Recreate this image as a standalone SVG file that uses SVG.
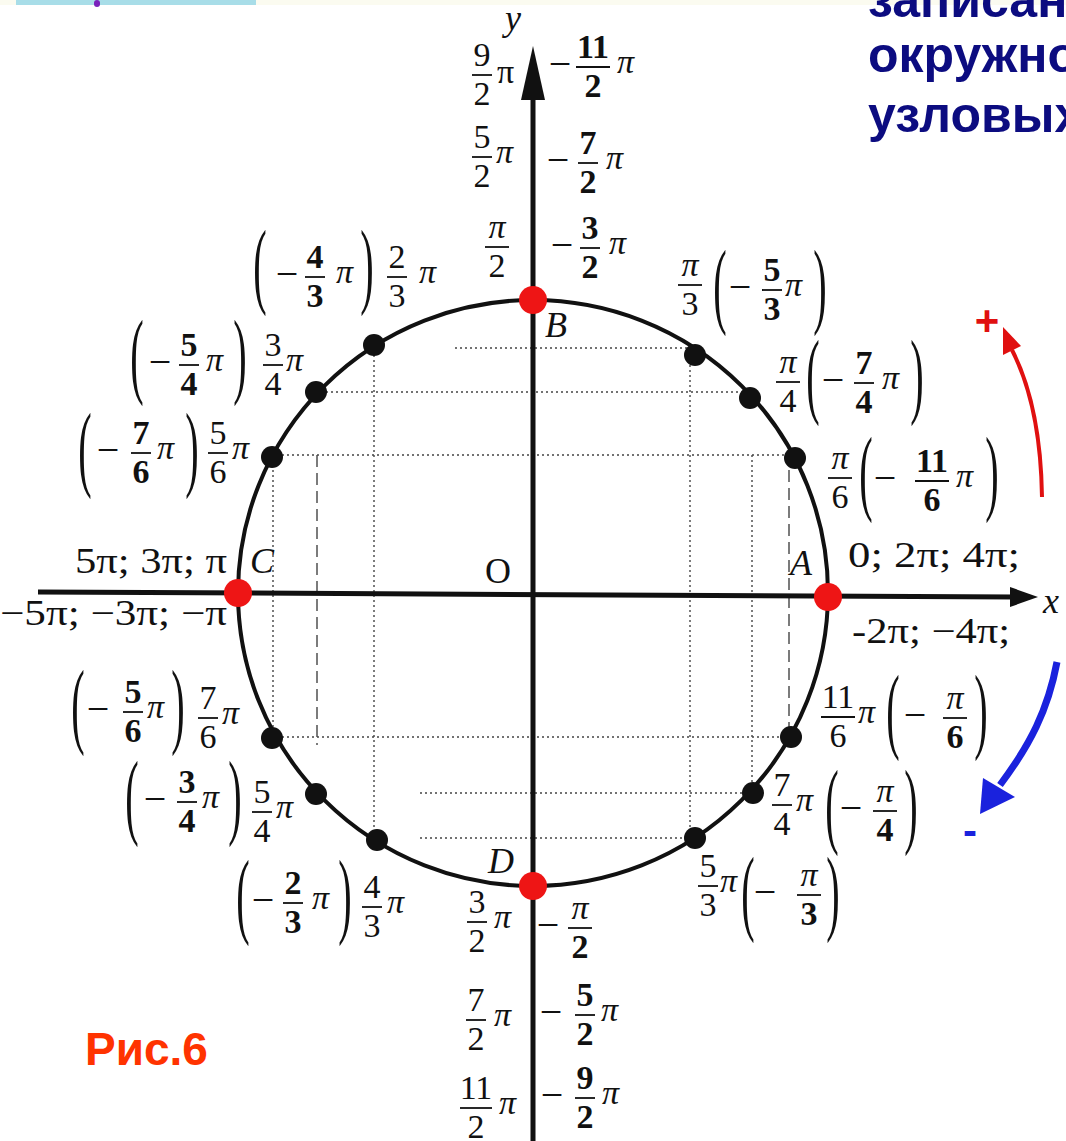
<svg xmlns="http://www.w3.org/2000/svg" width="1066" height="1141" viewBox="0 0 1066 1141">
<style>
.t{font-family:"Liberation Serif","Times New Roman",serif;font-size:34px;fill:#111}
.c{text-anchor:middle}
.b{font-weight:bold}
.i{font-style:italic}
.m{font-size:40px}
.bar{stroke:#111;stroke-width:1.8}
.par{font-family:"Liberation Serif","Times New Roman",serif;font-size:96px;fill:#111;text-anchor:middle}
.ax{font-family:"Liberation Serif","Times New Roman",serif;font-size:36px;fill:#111}
.grid{stroke:#444;stroke-width:1.4;stroke-dasharray:2 3;fill:none}
.dot{fill:#111}
.rdot{fill:#ee1515}
.title{font-family:"Liberation Sans",Arial,sans-serif;font-weight:bold;font-size:50px;fill:#0c0c80}
</style>
<rect width="1066" height="1141" fill="#fff"/>
<rect x="0" y="0" width="1066" height="5" fill="#fbfbf0"/>
<rect x="16" y="0" width="240" height="5" fill="#a8dde8"/>
<rect x="94" y="0" width="6" height="7" rx="3" fill="#7a22bb"/>

<g id="title">
<text class="title" x="868" y="17">записан</text>
<text class="title" x="868" y="72">окружно</text>
<text class="title" x="868" y="132">узловых</text>
</g>

<g id="grid">
<line class="grid" x1="455" y1="348" x2="690" y2="348"/>
<line class="grid" x1="316" y1="392" x2="750" y2="392"/>
<line class="grid" x1="272" y1="455" x2="795" y2="455"/>
<line class="grid" x1="272" y1="737" x2="791" y2="737"/>
<line class="grid" x1="420" y1="793" x2="753" y2="793"/>
<line class="grid" x1="420" y1="838" x2="695" y2="838"/>
<line class="grid" x1="273" y1="455" x2="273" y2="738"/>
<line class="grid" x1="317" y1="455" x2="317" y2="745" style="stroke-dasharray:12 6"/>
<line class="grid" x1="374" y1="345" x2="374" y2="840"/>
<line class="grid" x1="690" y1="355" x2="690" y2="838"/>
<line class="grid" x1="752" y1="455" x2="752" y2="793"/>
<line class="grid" x1="789" y1="470" x2="789" y2="735" style="stroke-dasharray:12 6"/>
</g>

<g id="circle">
<ellipse cx="533" cy="593" rx="295" ry="293" fill="none" stroke="#111" stroke-width="4"/>
</g>

<g id="connectors">
<line x1="38" y1="592" x2="1015" y2="597" stroke="#111" stroke-width="5"/>
<polygon points="1038,597 1010,587 1010,607" fill="#111"/>
<line x1="533" y1="1141" x2="533" y2="90" stroke="#111" stroke-width="5"/>
<polygon points="533,46 521,100 545,100" fill="#111"/>
<path d="M1042,497 C1041,430 1030,385 1012,350" fill="none" stroke="#e01010" stroke-width="4"/>
<polygon points="1003,327 1021,346 1003,355" fill="#e01010"/>
<path d="M1057,662 C1048,710 1030,745 1000,785" fill="none" stroke="#1a22dd" stroke-width="7"/>
<polygon points="980,814 983,778 1015,797" fill="#1a22dd"/>
</g>

<g id="axis-labels">
<text class="ax i" x="505" y="30">y</text>
<text class="ax i" x="1043" y="613">x</text>
<text class="ax" x="498" y="583" text-anchor="middle">O</text>
<text class="ax" x="75" y="573" textLength="152" lengthAdjust="spacingAndGlyphs">5π; 3π; π</text>
<text class="ax" x="0" y="625" textLength="227" lengthAdjust="spacingAndGlyphs">−5π; −3π; −π</text>
<text class="ax" x="848" y="567" textLength="172" lengthAdjust="spacingAndGlyphs">0; 2π; 4π;</text>
<text class="ax" x="852" y="643" textLength="158" lengthAdjust="spacingAndGlyphs">-2π; −4π;</text>
<text x="987" y="335" text-anchor="middle" style="font-family:'Liberation Sans',Arial,sans-serif;font-weight:bold;font-size:42px;fill:#e01010">+</text>
<text x="970" y="845" text-anchor="middle" style="font-family:'Liberation Sans',Arial,sans-serif;font-weight:bold;font-size:42px;fill:#1a22dd">-</text>
<text x="85" y="1065" style="font-family:'Liberation Sans',Arial,sans-serif;font-weight:bold;font-size:46px;fill:#ff3300">Рис.6</text>
</g>

<g id="node-A">
<circle class="rdot" cx="828" cy="597" r="14"/>
<text class="ax i" x="790" y="575">A</text>
</g>
<g id="node-B">
<circle class="rdot" cx="533" cy="300" r="14"/>
<text class="ax i" x="545" y="337">B</text>
<text class="t c" x="482" y="66">9</text><line class="bar" x1="472" y1="75" x2="492" y2="75"/><text class="t c" x="482" y="105">2</text>
<text class="t" x="497" y="83">π</text>
<text class="t c" x="482" y="148">5</text><line class="bar" x1="472" y1="157" x2="492" y2="157"/><text class="t c" x="482" y="187">2</text>
<text class="t i" x="496" y="163">π</text>
<text class="t c i" x="497" y="238">π</text><line class="bar" x1="485" y1="247" x2="509" y2="247"/><text class="t c" x="497" y="277">2</text>
<text class="t c m" x="560" y="77">−</text>
<text class="t c b" x="593" y="58">11</text><line class="bar" x1="576" y1="67" x2="610" y2="67"/><text class="t c b" x="593" y="97">2</text>
<text class="t i" x="617" y="73">π</text>
<text class="t c m" x="558" y="173">−</text>
<text class="t c b" x="588" y="154">7</text><line class="bar" x1="578" y1="163" x2="598" y2="163"/><text class="t c b" x="588" y="193">2</text>
<text class="t i" x="606" y="169">π</text>
<text class="t c m" x="562" y="258">−</text>
<text class="t c b" x="590" y="239">3</text><line class="bar" x1="580" y1="248" x2="600" y2="248"/><text class="t c b" x="590" y="278">2</text>
<text class="t i" x="609" y="254">π</text>
</g>
<g id="node-C">
<circle class="rdot" cx="238" cy="593" r="14"/>
<text class="ax i" x="250" y="573">C</text>
</g>
<g id="node-D">
<circle class="rdot" cx="533" cy="886" r="14"/>
<text class="ax i" x="488" y="873">D</text>
<text class="t c" x="477" y="913">3</text><line class="bar" x1="467" y1="922" x2="487" y2="922"/><text class="t c" x="477" y="952">2</text>
<text class="t i" x="494" y="928">π</text>
<text class="t c" x="476" y="1011">7</text><line class="bar" x1="466" y1="1020" x2="486" y2="1020"/><text class="t c" x="476" y="1050">2</text>
<text class="t i" x="494" y="1026">π</text>
<text class="t c" x="476" y="1099">11</text><line class="bar" x1="460" y1="1108" x2="492" y2="1108"/><text class="t c" x="476" y="1138">2</text>
<text class="t i" x="499" y="1114">π</text>
<text class="t c m" x="548" y="938">−</text>
<text class="t c i" x="580" y="919">π</text><line class="bar" x1="568" y1="928" x2="592" y2="928"/><text class="t c b" x="580" y="958">2</text>
<text class="t c m" x="551" y="1025">−</text>
<text class="t c b" x="585" y="1006">5</text><line class="bar" x1="575" y1="1015" x2="595" y2="1015"/><text class="t c b" x="585" y="1045">2</text>
<text class="t i" x="601" y="1021">π</text>
<text class="t c m" x="552" y="1108">−</text>
<text class="t c b" x="585" y="1089">9</text><line class="bar" x1="575" y1="1098" x2="595" y2="1098"/><text class="t c b" x="585" y="1128">2</text>
<text class="t i" x="602" y="1104">π</text>
</g>

<g id="node-2pi3">
<circle class="dot" cx="374" cy="345" r="11"/>
<text class="par" transform="translate(260,296) scale(0.42,1)">(</text>
<text class="t c m" x="287" y="287">−</text>
<text class="t c b" x="315" y="268">4</text><line class="bar" x1="305" y1="277" x2="325" y2="277"/><text class="t c b" x="315" y="307">3</text>
<text class="t i" x="336" y="283">π</text>
<text class="par" transform="translate(367,296) scale(0.42,1)">)</text>
<text class="t c" x="397" y="268">2</text><line class="bar" x1="387" y1="277" x2="407" y2="277"/><text class="t c" x="397" y="307">3</text>
<text class="t i" x="419" y="283">π</text>
</g>
<g id="node-3pi4">
<circle class="dot" cx="316" cy="392" r="11"/>
<text class="par" transform="translate(137,386) scale(0.42,1)">(</text>
<text class="t c m" x="160" y="375">−</text>
<text class="t c b" x="189" y="356">5</text><line class="bar" x1="179" y1="365" x2="199" y2="365"/><text class="t c b" x="189" y="395">4</text>
<text class="t i" x="206" y="371">π</text>
<text class="par" transform="translate(240,386) scale(0.42,1)">)</text>
<text class="t c" x="273" y="356">3</text><line class="bar" x1="263" y1="365" x2="283" y2="365"/><text class="t c" x="273" y="395">4</text>
<text class="t i" x="286" y="371">π</text>
</g>
<g id="node-5pi6">
<circle class="dot" cx="272" cy="457" r="11"/>
<text class="par" transform="translate(85,479) scale(0.42,1)">(</text>
<text class="t c m" x="108" y="463">−</text>
<text class="t c b" x="141" y="444">7</text><line class="bar" x1="131" y1="453" x2="151" y2="453"/><text class="t c b" x="141" y="483">6</text>
<text class="t i" x="157" y="459">π</text>
<text class="par" transform="translate(192,479) scale(0.42,1)">)</text>
<text class="t c" x="218" y="444">5</text><line class="bar" x1="208" y1="453" x2="228" y2="453"/><text class="t c" x="218" y="483">6</text>
<text class="t i" x="232" y="459">π</text>
</g>
<g id="node-7pi6">
<circle class="dot" cx="272" cy="738" r="11"/>
<text class="par" transform="translate(78,736) scale(0.42,1)">(</text>
<text class="t c m" x="98" y="722">−</text>
<text class="t c b" x="133" y="703">5</text><line class="bar" x1="123" y1="712" x2="143" y2="712"/><text class="t c b" x="133" y="742">6</text>
<text class="t i" x="147" y="718">π</text>
<text class="par" transform="translate(178,736) scale(0.42,1)">)</text>
<text class="t c" x="208" y="709">7</text><line class="bar" x1="198" y1="718" x2="218" y2="718"/><text class="t c" x="208" y="748">6</text>
<text class="t i" x="222" y="724">π</text>
</g>
<g id="node-5pi4">
<circle class="dot" cx="316" cy="794" r="11"/>
<text class="par" transform="translate(132,827) scale(0.42,1)">(</text>
<text class="t c m" x="155" y="812">−</text>
<text class="t c b" x="187" y="793">3</text><line class="bar" x1="177" y1="802" x2="197" y2="802"/><text class="t c b" x="187" y="832">4</text>
<text class="t i" x="202" y="808">π</text>
<text class="par" transform="translate(235,827) scale(0.42,1)">)</text>
<text class="t c" x="262" y="803">5</text><line class="bar" x1="252" y1="812" x2="272" y2="812"/><text class="t c" x="262" y="842">4</text>
<text class="t i" x="276" y="818">π</text>
</g>
<g id="node-4pi3">
<circle class="dot" cx="377" cy="840" r="11"/>
<text class="par" transform="translate(243,926) scale(0.42,1)">(</text>
<text class="t c m" x="263" y="913">−</text>
<text class="t c b" x="293" y="894">2</text><line class="bar" x1="283" y1="903" x2="303" y2="903"/><text class="t c b" x="293" y="933">3</text>
<text class="t i" x="312" y="909">π</text>
<text class="par" transform="translate(345,926) scale(0.42,1)">)</text>
<text class="t c" x="372" y="898">4</text><line class="bar" x1="362" y1="907" x2="382" y2="907"/><text class="t c" x="372" y="937">3</text>
<text class="t i" x="387" y="913">π</text>
</g>

<g id="node-pi3">
<circle class="dot" cx="695" cy="355" r="11"/>
<text class="t c i" x="690" y="276">π</text><line class="bar" x1="678" y1="285" x2="702" y2="285"/><text class="t c" x="690" y="315">3</text>
<text class="par" transform="translate(720,316) scale(0.42,1)">(</text>
<text class="t c m" x="740" y="300">−</text>
<text class="t c b" x="772" y="281">5</text><line class="bar" x1="762" y1="290" x2="782" y2="290"/><text class="t c b" x="772" y="320">3</text>
<text class="t i" x="785" y="296">π</text>
<text class="par" transform="translate(820,316) scale(0.42,1)">)</text>
</g>
<g id="node-pi4">
<circle class="dot" cx="750" cy="398" r="11"/>
<text class="t c i" x="788" y="373">π</text><line class="bar" x1="776" y1="382" x2="800" y2="382"/><text class="t c" x="788" y="412">4</text>
<text class="par" transform="translate(813,406) scale(0.42,1)">(</text>
<text class="t c m" x="833" y="393">−</text>
<text class="t c b" x="864" y="374">7</text><line class="bar" x1="854" y1="383" x2="874" y2="383"/><text class="t c b" x="864" y="413">4</text>
<text class="t i" x="882" y="389">π</text>
<text class="par" transform="translate(917,406) scale(0.42,1)">)</text>
</g>
<g id="node-pi6">
<circle class="dot" cx="795" cy="458" r="11"/>
<text class="t c i" x="840" y="469">π</text><line class="bar" x1="828" y1="478" x2="852" y2="478"/><text class="t c" x="840" y="508">6</text>
<text class="par" transform="translate(866,503) scale(0.42,1)">(</text>
<text class="t c m" x="885" y="491">−</text>
<text class="t c b" x="932" y="472">11</text><line class="bar" x1="915" y1="481" x2="949" y2="481"/><text class="t c b" x="932" y="511">6</text>
<text class="t i" x="956" y="487">π</text>
<text class="par" transform="translate(992,503) scale(0.42,1)">)</text>
</g>
<g id="node-11pi6">
<circle class="dot" cx="791" cy="737" r="11"/>
<text class="t c" x="838" y="708">11</text><line class="bar" x1="821" y1="717" x2="855" y2="717"/><text class="t c" x="838" y="747">6</text>
<text class="t i" x="858" y="723">π</text>
<text class="par" transform="translate(893,741) scale(0.42,1)">(</text>
<text class="t c m" x="915" y="728">−</text>
<text class="t c i" x="955" y="709">π</text><line class="bar" x1="943" y1="718" x2="967" y2="718"/><text class="t c b" x="955" y="748">6</text>
<text class="par" transform="translate(981,741) scale(0.42,1)">)</text>
</g>
<g id="node-7pi4">
<circle class="dot" cx="753" cy="793" r="11"/>
<text class="t c" x="782" y="796">7</text><line class="bar" x1="772" y1="805" x2="792" y2="805"/><text class="t c" x="782" y="835">4</text>
<text class="t i" x="796" y="811">π</text>
<text class="par" transform="translate(832,836) scale(0.42,1)">(</text>
<text class="t c m" x="851" y="821">−</text>
<text class="t c i" x="885" y="802">π</text><line class="bar" x1="873" y1="811" x2="897" y2="811"/><text class="t c b" x="885" y="841">4</text>
<text class="par" transform="translate(911,836) scale(0.42,1)">)</text>
</g>
<g id="node-5pi3">
<circle class="dot" cx="695" cy="838" r="11"/>
<text class="t c" x="708" y="877">5</text><line class="bar" x1="698" y1="886" x2="718" y2="886"/><text class="t c" x="708" y="916">3</text>
<text class="t i" x="720" y="892">π</text>
<text class="par" transform="translate(748,923) scale(0.42,1)">(</text>
<text class="t c m" x="765" y="905">−</text>
<text class="t c i" x="809" y="886">π</text><line class="bar" x1="797" y1="895" x2="821" y2="895"/><text class="t c b" x="809" y="925">3</text>
<text class="par" transform="translate(833,923) scale(0.42,1)">)</text>
</g>
</svg>
